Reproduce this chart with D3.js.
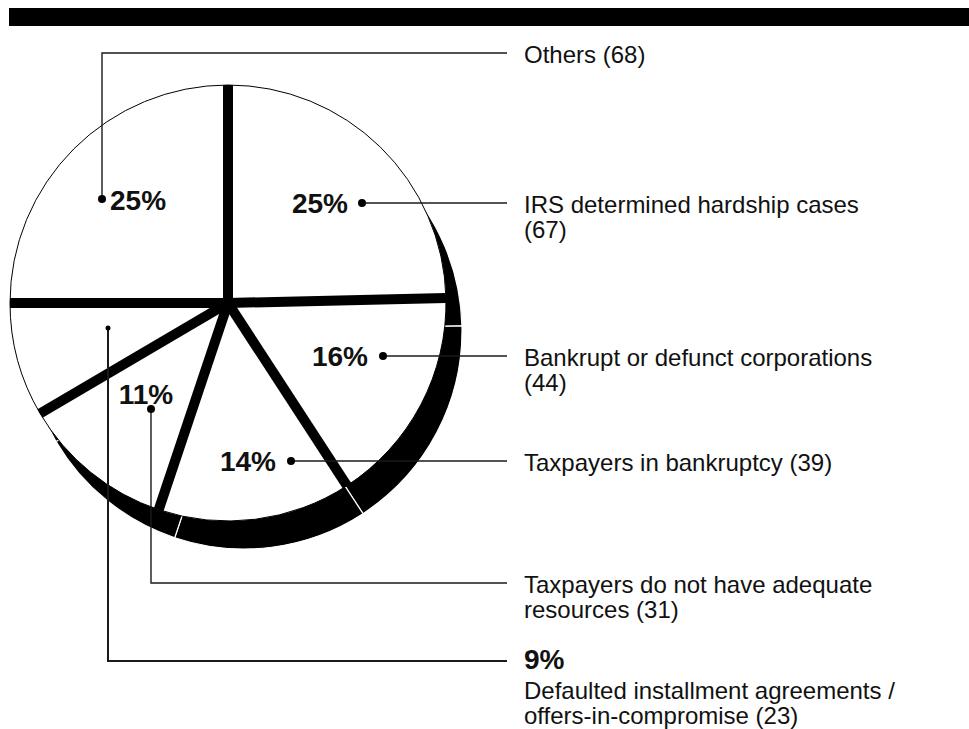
<!DOCTYPE html>
<html>
<head>
<meta charset="utf-8">
<script src="https://cdn.jsdelivr.net/npm/d3@7"></script>
<style>
  html, body { margin: 0; padding: 0; background: #fff; }
  svg { display: block; }
  text { font-family: "Liberation Sans", Arial, Helvetica, sans-serif; fill: #111; }
</style>
</head>
<body>
<svg id="chart" width="969" height="729"></svg>
<script>
// Reasons accounts were closed, clockwise from 12 o'clock
const categories = [
  "IRS determined hardship cases",
  "Bankrupt or defunct corporations",
  "Taxpayers in bankruptcy",
  "Taxpayers do not have adequate resources",
  "Defaulted installment agreements / offers-in-compromise",
  "Others"
];
const counts = [67, 44, 39, 31, 23, 68];
const percentLabels = ["25%", "16%", "14%", "11%", "9%", "25%"];
// Right-hand caption lines for each category
const captionLines = [
  ["IRS determined hardship cases", "(67)"],
  ["Bankrupt or defunct corporations", "(44)"],
  ["Taxpayers in bankruptcy (39)"],
  ["Taxpayers do not have adequate", "resources (31)"],
  ["Defaulted installment agreements /", "offers-in-compromise (23)"],
  ["Others (68)"]
];

// ---- layout ----
const W = 969, H = 729;
const cx = 228, cy = 303, R = 218;
const depth = [16, 28];          // offset of the black extrusion
const gap = 10;                  // width of the black dividers
const leaderEndX = 507, captionX = 524;
const lineH = 25;

// Callout placement per slice: dot position, percent label placement, leader elbow
const callouts = [
  { dot: [362, 203], r: 4,   pct: { x: 348, y: 213, anchor: "end" },   route: "h",  lineY: 203 },
  { dot: [383, 356], r: 4,   pct: { x: 368, y: 366, anchor: "end" },   route: "h",  lineY: 356 },
  { dot: [291, 461], r: 4,   pct: { x: 276, y: 471, anchor: "end" },   route: "h",  lineY: 461 },
  { dot: [151, 409], r: 4,   pct: { x: 146, y: 404, anchor: "middle" }, route: "v", lineY: 583 },
  { dot: [108, 328], r: 2.5, pct: null,                                route: "v",  lineY: 661, pctRight: true },
  { dot: [102, 199], r: 4,   pct: { x: 110, y: 210, anchor: "start" }, route: "v",  lineY: 53 }
];

const svg = d3.select("#chart");

// Header band
svg.append("rect")
  .attr("x", 9).attr("y", 8)
  .attr("width", W - 9).attr("height", 18)
  .attr("fill", "#000");

const pie = d3.pie().sort(null).value(d => d).startAngle(0).endAngle(2 * Math.PI);
const arcs = pie(counts);
const arc = d3.arc().innerRadius(0).outerRadius(R);

// Extruded black base, one piece per slice
svg.append("g")
  .attr("transform", `translate(${cx + depth[0]},${cy + depth[1]})`)
  .selectAll("path")
  .data(arcs)
  .join("path")
  .attr("d", arc)
  .attr("fill", "#000")
  .attr("stroke", "#fff")
  .attr("stroke-width", 1.2);

const face = svg.append("g").attr("transform", `translate(${cx},${cy})`);

// White top face
face.selectAll("path.slice")
  .data(arcs)
  .join("path")
  .attr("class", "slice")
  .attr("d", arc)
  .attr("fill", "#fff")
  .attr("stroke", "#000")
  .attr("stroke-width", 1);

// Thick black dividers along each slice boundary
face.selectAll("line.divider")
  .data(arcs)
  .join("line")
  .attr("class", "divider")
  .attr("x1", 0).attr("y1", 0)
  .attr("x2", d => R * Math.sin(d.startAngle))
  .attr("y2", d => -R * Math.cos(d.startAngle))
  .attr("stroke", "#000")
  .attr("stroke-width", gap)
  .attr("stroke-linecap", "butt");
face.append("circle").attr("r", gap * 0.7).attr("fill", "#000");

// Leaders, dots, percent labels and captions
const ann = svg.append("g");
callouts.forEach((c, i) => {
  const [dx, dy] = c.dot;
  const pts = c.route === "h"
    ? [[dx, dy], [leaderEndX, dy]]
    : [[dx, dy], [dx, c.lineY], [leaderEndX, c.lineY]];
  ann.append("path")
    .attr("d", d3.line()(pts))
    .attr("fill", "none")
    .attr("stroke", "#1a1a1a")
    .attr("stroke-width", c.pctRight ? 2 : 1.4);
  ann.append("circle")
    .attr("cx", dx).attr("cy", dy).attr("r", c.r)
    .attr("fill", "#000");

  if (c.pct) {
    ann.append("text")
      .attr("x", c.pct.x).attr("y", c.pct.y)
      .attr("text-anchor", c.pct.anchor)
      .attr("font-size", 28)
      .attr("font-weight", "bold")
      .text(percentLabels[i]);
  }

  let y = c.lineY + 10;
  if (c.pctRight) {
    ann.append("text")
      .attr("x", captionX).attr("y", y - 2)
      .attr("font-size", 28)
      .attr("font-weight", "bold")
      .text(percentLabels[i]);
    y += 28;
  }
  const t = ann.append("text")
    .attr("x", captionX).attr("y", y)
    .attr("font-size", 24);
  captionLines[i].forEach((line, k) => {
    t.append("tspan")
      .attr("x", captionX)
      .attr("dy", k === 0 ? 0 : lineH)
      .text(line);
  });
});
</script>
</body>
</html>
